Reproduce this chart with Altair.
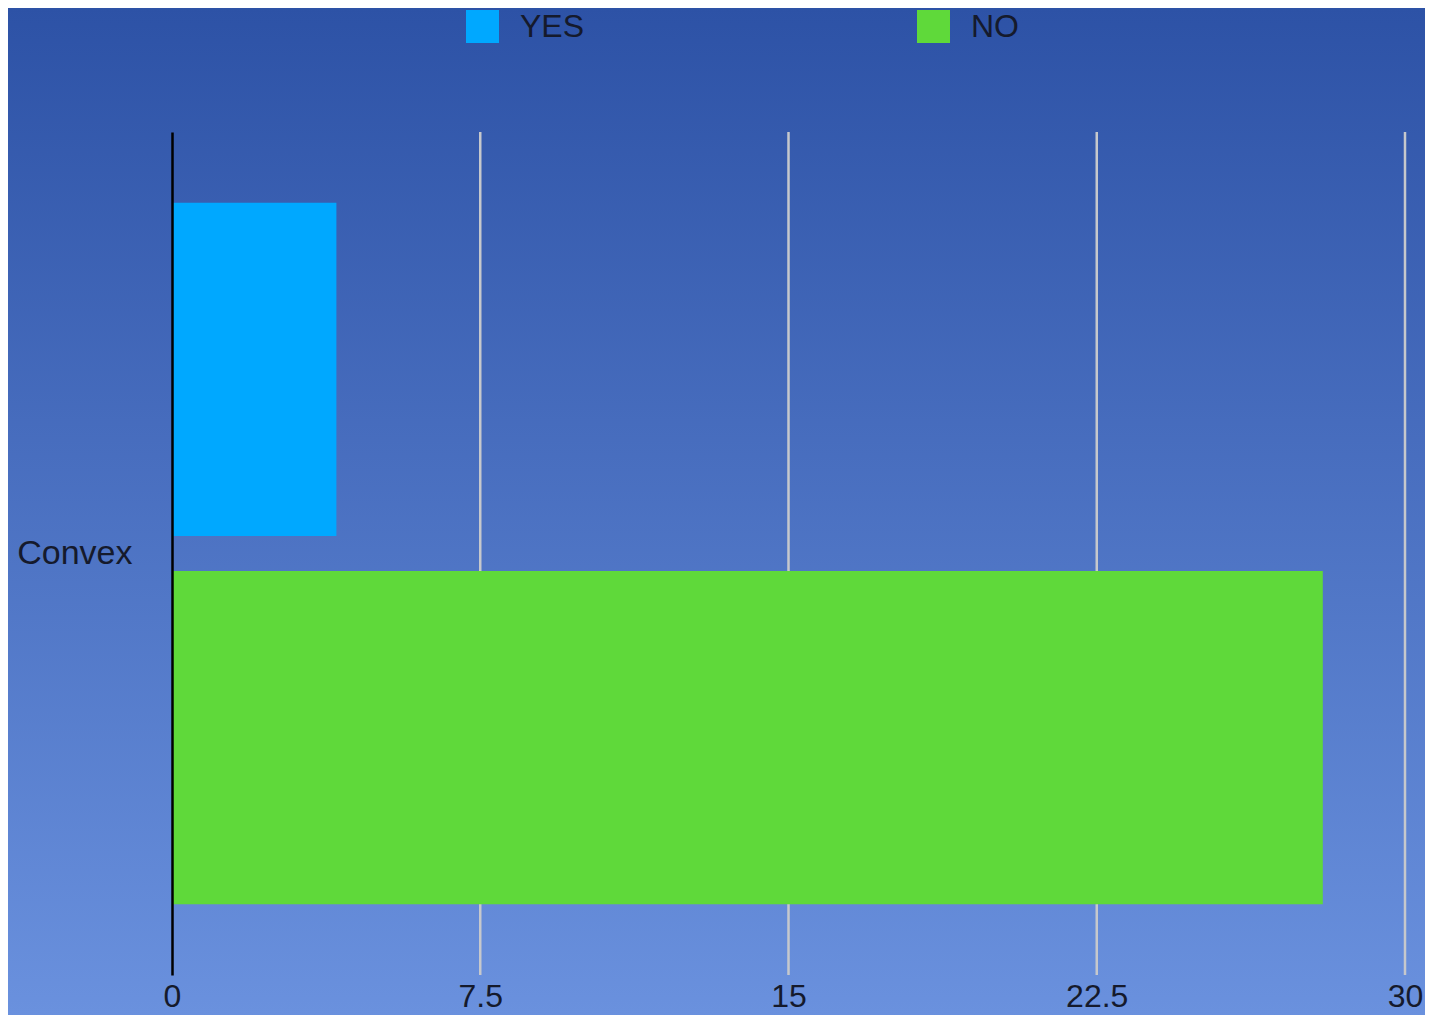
import altair as alt
import pandas as pd

categories = ["Convex"]
series = ["YES", "NO"]
values = [4, 28]
x_ticks = [0, 7.5, 15, 22.5, 30]
grid_ticks = [7.5, 15, 22.5, 30]
colors = ["#00a8ff", "#5fd93a"]

W, H = 1233, 843
PL, PT, PR, PB = 164, 124, 20, 40
FONT = "Liberation Sans"
TXT = "#151a2c"

df = pd.DataFrame({
    "cat": [categories[0]] * len(series),
    "series": series,
    "value": values,
})
grid_df = pd.DataFrame({"g": grid_ticks})
bg_df = pd.DataFrame({"a": [0]})

gradient = alt.Gradient(
    gradient="linear",
    stops=[alt.GradientStop(color="#2d52a6", offset=0),
           alt.GradientStop(color="#6a91de", offset=1)],
    x1=0, x2=0, y1=0, y2=1,
)

bg = alt.Chart(bg_df).mark_rect(color=gradient).encode(
    x=alt.value(-PL), x2=alt.value(W + PR),
    y=alt.value(-PT), y2=alt.value(H + PB),
)

xscale = alt.Scale(domain=[0, 30], nice=False, zero=True)

grid = alt.Chart(grid_df).mark_rule(color="#c6c8cc", strokeWidth=2.5).encode(
    x=alt.X("g:Q", scale=xscale),
)

bars = alt.Chart(df).mark_bar().encode(
    y=alt.Y("cat:N", scale=alt.Scale(paddingInner=0, paddingOuter=0.101),
            axis=alt.Axis(title=None, ticks=False, domain=True, domainColor="#000000",
                          domainWidth=2.5, labelFontSize=34, labelFont=FONT,
                          labelColor=TXT, labelPadding=40, grid=False, zindex=1)),
    yOffset=alt.YOffset("series:N", sort=series,
                        scale=alt.Scale(paddingInner=0.095, paddingOuter=0)),
    x=alt.X("value:Q", scale=xscale,
            axis=alt.Axis(title=None, values=x_ticks, grid=False, ticks=False, domain=False,
                          labelFontSize=32, labelFont=FONT, labelColor=TXT,
                          labelPadding=6, labelFlush=False, labelOverlap=False,
                          labelExpr="toString(datum.value)", zindex=1)),
    color=alt.Color("series:N", sort=series,
                    scale=alt.Scale(domain=series, range=colors),
                    legend=alt.Legend(orient="none", legendX=294, legendY=-122,
                                      direction="horizontal", title=None,
                                      symbolType="square", symbolSize=1089,
                                      symbolStrokeWidth=0, labelFontSize=32,
                                      labelFont=FONT, labelColor=TXT,
                                      labelOffset=21, columnPadding=332, padding=0)),
)

chart = alt.layer(bg, grid, bars).properties(
    width=W, height=H,
    padding={"left": PL, "top": PT, "right": PR, "bottom": PB},
    autosize=alt.AutoSizeParams(type="none"),
    background="#2f54a8",
).configure_view(stroke=None)

chart.save("out.html", embed_options={"renderer": "svg", "actions": False})
